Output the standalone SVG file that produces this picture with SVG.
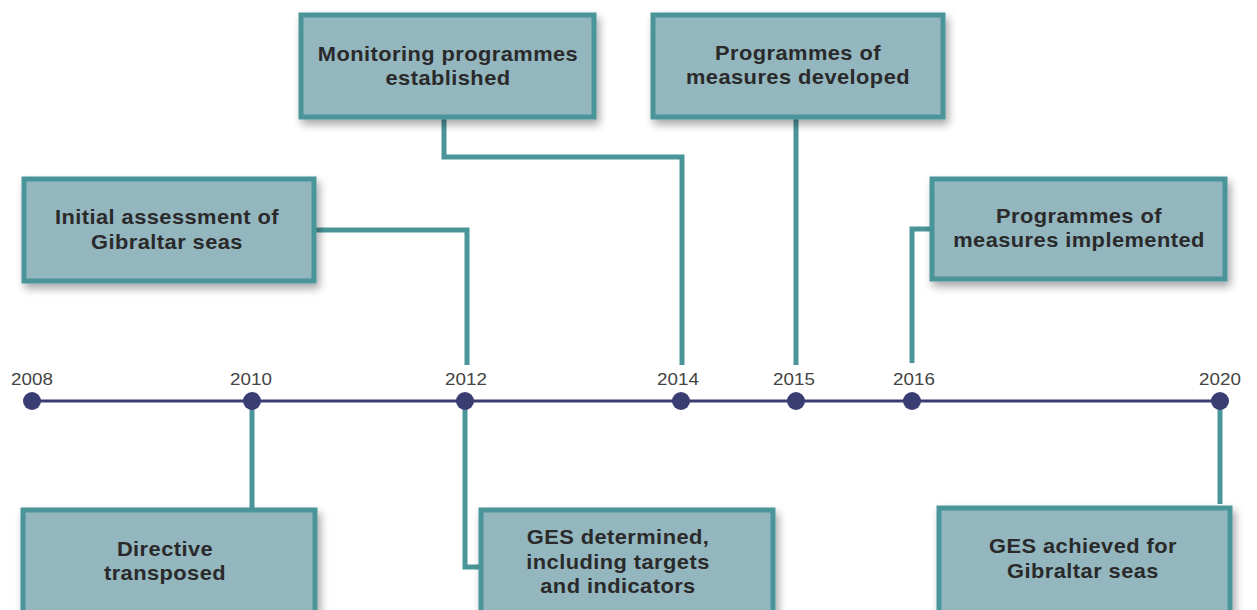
<svg xmlns="http://www.w3.org/2000/svg" width="1257" height="610" viewBox="0 0 1257 610">
  <style>
    .box { fill: #93b6bf; stroke: #4a9599; stroke-width: 5; filter: url(#shadow); }
    .label { font-family: "Liberation Sans", Arial, sans-serif; font-weight: bold; font-size: 19.5px; letter-spacing: 0.4px; fill: #2a2a2a; text-anchor: middle; }
    .year { font-family: "Liberation Sans", Arial, sans-serif; font-size: 16.5px; fill: #444; text-anchor: middle; }
    .conn { fill: none; stroke: #4a9599; stroke-width: 5; }
    .axis { stroke: #3a3d72; stroke-width: 3; }
    .dot { fill: #3a3d72; }
  </style>
  <defs>
    <filter id="shadow" x="-10%" y="-20%" width="125%" height="150%">
      <feDropShadow dx="3" dy="5" stdDeviation="4" flood-color="#000" flood-opacity="0.35"/>
    </filter>
  </defs>
  <rect width="1257" height="610" fill="#fff"/>

  <!-- connectors -->
  <g id="connectors">
    <polyline class="conn" points="315,230 467,230 467,365"/>
    <polyline class="conn" points="444,118 444,157 682,157 682,365"/>
    <polyline class="conn" points="796,118 796,365"/>
    <polyline class="conn" points="930,229 912,229 912,363"/>
    <polyline class="conn" points="252,401 252,508"/>
    <polyline class="conn" points="465,401 465,567 479,567"/>
    <polyline class="conn" points="1220,401 1220,504"/>
  </g>

  <!-- timeline axis; year labels are widened slightly -->
  <g id="timeline">
    <line class="axis" x1="32" y1="401" x2="1220" y2="401"/>
    <circle class="dot" cx="32" cy="401" r="9"/>
    <circle class="dot" cx="252" cy="401" r="9"/>
    <circle class="dot" cx="465" cy="401" r="9"/>
    <circle class="dot" cx="681" cy="401" r="9"/>
    <circle class="dot" cx="796" cy="401" r="9"/>
    <circle class="dot" cx="912" cy="401" r="9"/>
    <circle class="dot" cx="1220" cy="401" r="9"/>
    <g transform="translate(32 385) scale(1.14 1)"><text class="year">2008</text></g>
    <g transform="translate(251 385) scale(1.14 1)"><text class="year">2010</text></g>
    <g transform="translate(466 385) scale(1.14 1)"><text class="year">2012</text></g>
    <g transform="translate(678 385) scale(1.14 1)"><text class="year">2014</text></g>
    <g transform="translate(794 385) scale(1.14 1)"><text class="year">2015</text></g>
    <g transform="translate(914 385) scale(1.14 1)"><text class="year">2016</text></g>
    <g transform="translate(1220 385) scale(1.14 1)"><text class="year">2020</text></g>
  </g>

  <g id="monitoring">
    <rect class="box" x="301" y="15" width="293" height="102"/>
    <g transform="translate(448 0) scale(1.12 1)">
      <text class="label" y="61">Monitoring programmes</text>
      <text class="label" y="85">established</text>
    </g>
  </g>

  <g id="measures-developed">
    <rect class="box" x="653" y="15" width="290" height="102"/>
    <g transform="translate(798 0) scale(1.12 1)">
      <text class="label" y="60">Programmes of</text>
      <text class="label" y="84">measures developed</text>
    </g>
  </g>

  <g id="initial-assessment">
    <rect class="box" x="24" y="179" width="290" height="102"/>
    <g transform="translate(167 0) scale(1.12 1)">
      <text class="label" y="224">Initial assessment of</text>
      <text class="label" y="249">Gibraltar seas</text>
    </g>
  </g>

  <g id="measures-implemented">
    <rect class="box" x="932" y="179" width="293" height="100"/>
    <g transform="translate(1079 0) scale(1.12 1)">
      <text class="label" y="223">Programmes of</text>
      <text class="label" y="247">measures implemented</text>
    </g>
  </g>

  <g id="directive">
    <rect class="box" x="23" y="510" width="292" height="110"/>
    <g transform="translate(165 0) scale(1.12 1)">
      <text class="label" y="556">Directive</text>
      <text class="label" y="580">transposed</text>
    </g>
  </g>

  <g id="ges-determined">
    <rect class="box" x="481" y="510" width="292" height="110"/>
    <g transform="translate(618 0) scale(1.12 1)">
      <text class="label" y="544">GES determined,</text>
      <text class="label" y="569">including targets</text>
      <text class="label" y="593">and indicators</text>
    </g>
  </g>

  <g id="ges-achieved">
    <rect class="box" x="939" y="508" width="291" height="112"/>
    <g transform="translate(1083 0) scale(1.12 1)">
      <text class="label" y="553">GES achieved for</text>
      <text class="label" y="578">Gibraltar seas</text>
    </g>
  </g>
</svg>
